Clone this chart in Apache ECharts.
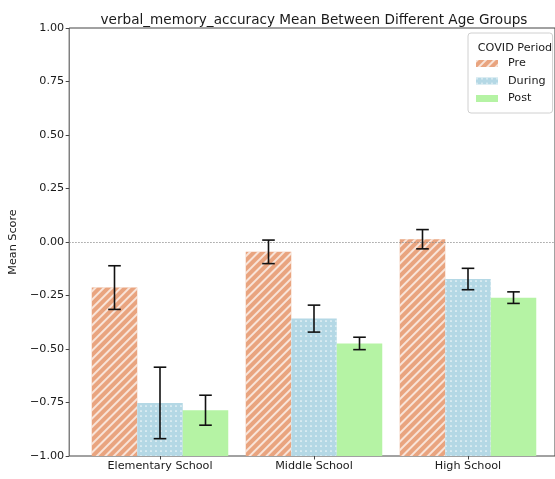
<!DOCTYPE html>
<html>
<head>
<meta charset="utf-8">
<script src="https://cdn.jsdelivr.net/npm/echarts@6/dist/echarts.min.js"></script>
<style>html,body{margin:0;padding:0;background:#fff}#c{width:555px;height:479px}</style>
</head>
<body>
<div id="c"></div>
<script>
const categories = ['Elementary School', 'Middle School', 'High School'];
const periods = ['Pre', 'During', 'Post'];
const preMeans = [-0.213, -0.046, 0.013];
const duringMeans = [-0.752, -0.358, -0.173];
const postMeans = [-0.786, -0.474, -0.260];
const preErr = [0.102, 0.055, 0.045];
const duringErr = [0.167, 0.063, 0.050];
const postErr = [0.070, 0.029, 0.027];
const yTicks = [-1, -0.75, -0.5, -0.25, 0, 0.25, 0.5, 0.75, 1];

const Y_MIN = yTicks[0], Y_MAX = yTicks[yTicks.length - 1];
const means = [preMeans, duringMeans, postMeans];
const errs = [preErr, duringErr, postErr];
const colors = ['#E9A47F', '#B4D8E5', '#B5F3A4'];
const decals = [
  {symbol: 'rect', symbolSize: 1, dashArrayX: [1, 0], dashArrayY: [1.3, 3.6], rotation: -Math.PI / 4, color: 'rgba(255,255,255,0.7)'},
  {symbol: 'circle', symbolSize: 0.85, dashArrayX: [1.5, 2.6], dashArrayY: [1.5, 2.6], color: 'rgba(255,255,255,0.85)'},
  null
];
const FONT = 'DejaVu Sans';
const FS = 11.2;
const BAR_FRAC = 0.2955;

const chart = echarts.init(document.getElementById('c'), null, {renderer: 'canvas'});

// bars are drawn up from the bottom of the axes (matplotlib style): a transparent
// base at the axis floor, then the visible bar stacked on top of it.
const barSeries = [];
periods.forEach((p, s) => {
  barSeries.push({
    name: 'base-' + p, type: 'bar', xAxisIndex: 1, yAxisIndex: 1, stack: 'st' + s, stackStrategy: 'all',
    data: means[s].map(() => Y_MIN), barWidth: (BAR_FRAC * 100) + '%', barGap: '0%',
    itemStyle: {color: 'rgba(0,0,0,0)'}, silent: true, emphasis: {disabled: true}
  });
  const st = {color: colors[s]};
  if (decals[s]) st.decal = decals[s];
  barSeries.push({
    name: p, type: 'bar', xAxisIndex: 1, yAxisIndex: 1, stack: 'st' + s, stackStrategy: 'all',
    data: means[s].map(v => v - Y_MIN), barWidth: (BAR_FRAC * 100) + '%', barGap: '0%',
    itemStyle: st, emphasis: {disabled: true}, z: 2
  });
});

const errData = [];
for (let s = 0; s < 3; s++) {
  for (let i = 0; i < categories.length; i++) {
    errData.push([i, means[s][i] - errs[s][i], means[s][i] + errs[s][i], s]);
  }
}

const errSeries = {
  type: 'custom', xAxisIndex: 1, yAxisIndex: 1, z: 5, silent: true,
  data: errData,
  renderItem: function (params, api) {
    const i = api.value(0), lo = api.value(1), hi = api.value(2), s = api.value(3);
    const band = api.size([1, 0])[0];
    const off = (s - 1) * band * BAR_FRAC;
    const pLo = api.coord([i, lo]);
    const pHi = api.coord([i, hi]);
    const x = pLo[0] + off;
    const cap = 6.3;
    const style = {stroke: '#111', lineWidth: 1.6};
    return {
      type: 'group',
      children: [
        {type: 'line', shape: {x1: x, y1: pLo[1], x2: x, y2: pHi[1]}, style: style},
        {type: 'line', shape: {x1: x - cap, y1: pLo[1], x2: x + cap, y2: pLo[1]}, style: style},
        {type: 'line', shape: {x1: x - cap, y1: pHi[1], x2: x + cap, y2: pHi[1]}, style: style}
      ]
    };
  }
};

const zeroSeries = {
  type: 'line', xAxisIndex: 0, yAxisIndex: 0, data: [], silent: true,
  markLine: {
    silent: true, symbol: 'none', label: {show: false},
    lineStyle: {color: '#888', type: [1.5, 1.5], width: 0.8},
    data: [{yAxis: 0}]
  }
};

chart.setOption({
  animation: false,
  backgroundColor: '#fff',
  textStyle: {fontFamily: FONT},
  title: [
    {text: 'verbal_memory_accuracy Mean Between Different Age Groups', left: 309, top: 8, textAlign: 'center',
     textStyle: {fontFamily: FONT, fontSize: 13.6, fontWeight: 'normal', color: '#1a1a1a'}},
    {text: 'COVID Period', left: 510, top: 38, textAlign: 'center',
     textStyle: {fontFamily: FONT, fontSize: FS, fontWeight: 'normal', color: '#1a1a1a'}, z: 10}
  ],
  grid: [
    {left: 69, right: -6, top: 28, bottom: 23, show: true, borderColor: '#444', borderWidth: 1, backgroundColor: 'transparent'},
    {left: 83, right: 10, top: 28, bottom: 23}
  ],
  xAxis: [
    {type: 'value', gridIndex: 0, min: 0, max: 1, show: true, axisLine: {show: false, onZero: false}, axisTick: {show: false}, axisLabel: {show: false}, splitLine: {show: false}},
    {type: 'category', gridIndex: 1, data: categories, position: 'bottom', axisLine: {show: false, onZero: false},
     axisTick: {show: true, alignWithLabel: true, length: 3.5, lineStyle: {color: '#444'}},
     axisLabel: {margin: 5, fontFamily: FONT, fontSize: FS, color: '#1a1a1a'}}
  ],
  yAxis: [
    {type: 'value', gridIndex: 0, min: Y_MIN, max: Y_MAX, interval: 0.25,
     axisLine: {show: false},
     axisTick: {show: true, length: 3.5, lineStyle: {color: '#444'}},
     axisLabel: {margin: 5, fontFamily: FONT, fontSize: FS, color: '#1a1a1a',
       formatter: v => (v < 0 ? '\u2212' : '') + Math.abs(v).toFixed(2)},
     splitLine: {show: false},
     name: 'Mean Score', nameLocation: 'middle', nameGap: 49, nameRotate: 90,
     nameTextStyle: {fontFamily: FONT, fontSize: FS, color: '#1a1a1a'}},
    {type: 'value', gridIndex: 1, min: Y_MIN, max: Y_MAX, show: false}
  ],
  legend: {
    data: periods, orient: 'vertical', left: 468, top: 33,
    itemWidth: 22, itemHeight: 7, itemGap: 6.5,
    padding: [25, 7, 9, 8],
    borderColor: '#d0d0d0', borderWidth: 1, borderRadius: 3,
    backgroundColor: 'rgba(255,255,255,0.8)',
    icon: 'rect',
    textStyle: {fontFamily: FONT, fontSize: FS, color: '#1a1a1a', padding: [0, 0, 0, 5]},
    selectedMode: false
  },
  series: [zeroSeries, ...barSeries, errSeries]
});
</script>
</body>
</html>
